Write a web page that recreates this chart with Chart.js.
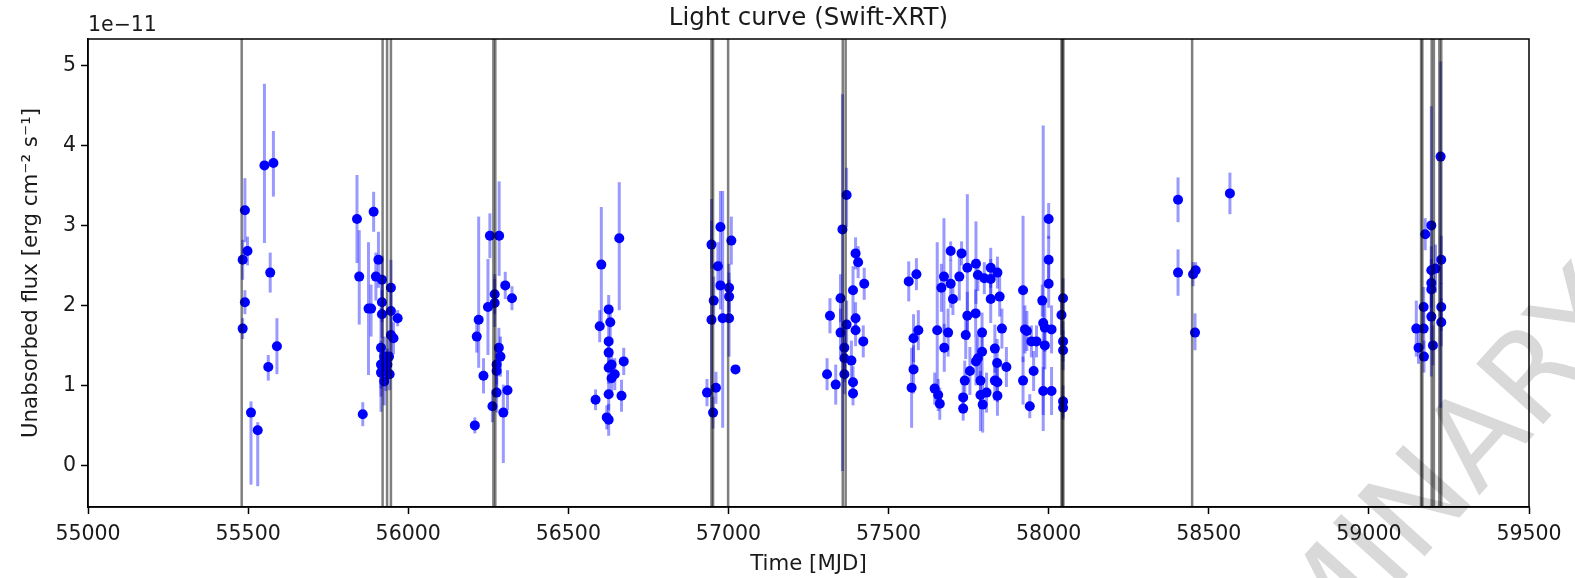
<!DOCTYPE html>
<html>
<head>
<meta charset="utf-8">
<title>Light curve (Swift-XRT)</title>
<script src="https://cdn.jsdelivr.net/npm/chart.js@4.4.1/dist/chart.umd.min.js"></script>
<style>
    html, body { margin: 0; padding: 0; background: #ffffff; }
    #wrap { width: 1575px; height: 578px; position: relative; }
</style>
</head>
<body>
<div id="wrap"><canvas id="lightCurve"></canvas></div>
<script>
// Observation times [MJD]
const mjd = [
    55490, 55498, 55483, 55490, 55483, 55551, 55579, 55569, 55590, 55563, 55509, 55530,
    55840, 55847, 55858, 55892, 55876, 55884, 55907, 55899, 55918, 55946, 55918, 55918,
    55967, 55946, 55954, 55946, 55915, 55925, 55940, 55915, 55930, 55942, 55925, 55915, 55935,
    56220, 56214, 56235, 56208, 56255, 56284, 56249, 56270, 56270, 56303, 56324, 56283,
    56288, 56276, 56276, 56276, 56263, 56310, 56297,
    56603, 56659, 56598, 56626, 56631, 56626, 56626, 56626, 56645, 56673, 56635, 56635,
    56626, 56666, 56585, 56620, 56626,
    56947, 56975, 57009, 56967, 56975, 57002, 57002, 56954, 56947, 56982, 57002, 57022,
    56933, 56961, 56952,
    57356, 57369, 57397, 57405, 57424, 57389, 57317, 57350, 57397, 57369, 57397, 57421,
    57350, 57362, 57362, 57384, 57308, 57335, 57362, 57389, 57389,
    57563, 57587, 57578, 57593, 57578, 57572, 57652, 57644, 57655, 57660, 57673, 57665,
    57686, 57674, 57694, 57694, 57701, 57728, 57721, 57746, 57773, 57779, 57799, 57746,
    57772, 57741, 57792, 57779, 57792, 57773, 57754, 57738, 57733, 57733, 57787, 57787,
    57794, 57806, 57819, 57840, 57819, 57819, 57847, 57854, 57832, 57839, 57868, 57832,
    57840, 57840, 57920, 57926, 57932, 57946, 57962, 57920, 57941, 57953, 57983, 57988,
    58000, 58000, 58000, 58009, 57983, 58009, 57988, 57980, 58045, 58040, 58045, 58045,
    58045, 58045,
    58404, 58404, 58451, 58459, 58457, 58566,
    59224, 59195, 59176, 59226, 59195, 59208, 59195, 59195, 59171, 59226, 59195, 59226,
    59148, 59171, 59155, 59200, 59172
];

// Unabsorbed flux [1e-11 erg cm^-2 s^-1]
const flux = [
    3.19, 2.68, 2.57, 2.04, 1.71, 3.75, 3.78, 2.41, 1.49, 1.23, 0.66, 0.44,
    3.08, 2.36, 0.64, 3.17, 1.96, 1.96, 2.57, 2.36, 2.32, 2.22, 2.04, 1.89,
    1.84, 1.93, 1.59, 1.63, 1.47, 1.36, 1.36, 1.26, 1.18, 1.14, 1.05, 1.16, 1.26,
    1.82, 1.61, 1.12, 0.50, 2.87, 2.87, 1.98, 2.14, 2.03, 2.25, 2.09, 1.47,
    1.36, 1.26, 1.18, 0.91, 0.74, 0.94, 0.66,
    2.51, 2.84, 1.74, 1.95, 1.79, 1.55, 1.41, 1.22, 1.14, 1.30, 1.09, 1.26,
    0.89, 0.87, 0.82, 0.60, 0.57,
    2.76, 2.98, 2.81, 2.49, 2.25, 2.22, 2.11, 2.06, 1.82, 1.84, 1.84, 1.20,
    0.91, 0.97, 0.66,
    2.95, 3.38, 2.65, 2.54, 2.27, 2.19, 1.87, 2.09, 1.84, 1.76, 1.69, 1.55,
    1.66, 1.47, 1.34, 1.31, 1.14, 1.01, 1.14, 1.04, 0.90,
    2.30, 2.39, 1.59, 1.69, 1.20, 0.97, 1.69, 0.96, 0.88, 0.77, 2.36, 2.22,
    1.66, 1.47, 2.68, 2.27, 2.08, 2.65, 2.36, 2.47, 2.52, 2.38, 2.34, 1.87,
    1.90, 1.63, 1.66, 1.34, 1.42, 1.30, 1.18, 1.06, 0.85, 0.71, 1.06, 0.88,
    0.76, 0.91, 2.47, 2.41, 2.33, 2.08, 2.11, 1.71, 1.46, 1.28, 1.23, 1.06,
    1.04, 0.87, 2.19, 1.70, 1.68, 1.55, 1.55, 1.06, 0.74, 1.18, 1.78, 1.72,
    3.08, 2.57, 2.27, 1.70, 0.93, 0.93, 1.50, 2.06, 2.09, 1.88, 1.55, 1.44,
    0.80, 0.72,
    3.32, 2.41, 2.39, 2.44, 1.66, 3.40,
    3.86, 3.00, 2.89, 2.57, 2.44, 2.46, 2.28, 2.20, 1.98, 1.98, 1.86, 1.79,
    1.71, 1.71, 1.47, 1.50, 1.36
];

// Lower error
const errLo = [
    0.40, 0.18, 0.25, 0.15, 0.13, 0.97, 0.42, 0.25, 0.35, 0.17, 0.90, 0.70,
    0.55, 0.60, 0.15, 0.25, 0.83, 0.35, 0.35, 0.30, 0.30, 0.35, 0.25, 0.30,
    0.10, 0.25, 0.20, 0.25, 0.80, 0.25, 0.25, 0.30, 0.25, 0.20, 0.30, 0.30, 0.20,
    0.60, 0.20, 0.22, 0.10, 0.28, 0.50, 0.60, 0.25, 0.30, 0.17, 0.15, 0.25,
    0.25, 0.25, 0.25, 0.25, 0.20, 0.25, 0.63,
    0.72, 0.90, 0.20, 0.18, 0.20, 0.20, 0.20, 0.20, 0.20, 0.17, 0.20, 0.20,
    0.20, 0.20, 0.13, 0.15, 0.20,
    0.30, 0.45, 0.30, 0.30, 0.30, 0.30, 0.30, 0.30, 1.17, 1.37, 0.48, 0.05,
    0.17, 0.20, 0.20,
    3.02, 0.40, 0.20, 0.20, 0.20, 0.30, 0.22, 0.30, 0.20, 0.30, 0.20, 0.20,
    0.30, 0.30, 0.30, 0.25, 0.20, 0.25, 0.25, 0.20, 0.15,
    0.25, 0.20, 0.30, 0.25, 0.30, 0.50, 0.90, 0.20, 0.20, 0.20, 0.70, 0.30,
    0.30, 0.30, 0.12, 0.30, 0.20, 0.15, 0.30, 0.90, 0.50, 0.20, 0.20, 0.30,
    0.30, 0.30, 0.25, 0.30, 0.30, 0.30, 0.30, 0.25, 0.20, 0.15, 0.30, 0.45,
    0.35, 0.25, 0.25, 0.20, 0.25, 0.30, 0.25, 0.25, 0.30, 0.30, 0.25, 0.25,
    0.25, 0.25, 0.90, 0.30, 0.25, 0.20, 0.20, 0.30, 0.15, 0.25, 1.35, 0.30,
    0.25, 0.30, 0.30, 0.30, 0.30, 0.30, 0.30, 0.20, 0.25, 0.25, 0.25, 0.25,
    0.20, 0.15,
    0.28, 0.29, 0.15, 0.10, 0.22, 0.26,
    3.14, 1.89, 0.20, 0.30, 0.30, 0.30, 0.30, 0.30, 0.25, 0.30, 0.30, 0.30,
    0.35, 0.25, 0.20, 0.25, 0.20
];

// Upper error
const errHi = [
    0.40, 0.18, 0.25, 0.15, 0.13, 1.02, 0.40, 0.25, 0.35, 0.15, 0.14, 0.10,
    0.55, 0.58, 0.15, 0.25, 0.83, 0.30, 0.35, 0.30, 0.30, 0.35, 0.25, 0.30,
    0.10, 0.25, 0.20, 0.25, 0.50, 0.25, 0.25, 0.30, 0.25, 0.20, 0.30, 0.30, 0.20,
    1.29, 0.20, 0.22, 0.10, 0.28, 0.68, 0.60, 0.25, 0.30, 0.17, 0.15, 0.25,
    0.25, 0.25, 0.25, 0.25, 0.20, 0.25, 0.35,
    0.72, 0.70, 0.20, 0.18, 0.20, 0.20, 0.20, 0.20, 0.20, 0.17, 0.20, 0.20,
    0.20, 0.20, 0.13, 0.15, 0.20,
    0.30, 0.45, 0.30, 0.30, 0.30, 0.30, 0.30, 0.30, 1.51, 1.59, 0.48, 0.05,
    0.17, 0.20, 0.20,
    1.69, 0.34, 0.20, 0.20, 0.20, 0.30, 0.22, 0.30, 0.20, 0.30, 0.20, 0.20,
    0.30, 0.30, 0.30, 0.25, 0.20, 0.25, 0.25, 0.20, 0.15,
    0.25, 0.20, 0.30, 0.25, 0.30, 0.50, 1.10, 0.20, 0.20, 0.20, 0.73, 0.30,
    0.30, 0.30, 0.12, 0.30, 0.20, 0.15, 0.30, 0.92, 0.53, 0.20, 0.20, 0.30,
    0.30, 0.30, 0.25, 0.30, 0.30, 0.30, 0.30, 0.25, 0.20, 0.15, 0.30, 0.30,
    0.30, 0.25, 0.25, 0.20, 0.25, 0.30, 0.25, 0.25, 0.30, 0.30, 0.25, 0.25,
    0.25, 0.25, 0.93, 0.30, 0.25, 0.20, 0.20, 0.30, 0.15, 0.25, 2.47, 0.30,
    0.20, 0.30, 0.30, 0.30, 0.30, 0.30, 0.30, 0.20, 0.25, 0.25, 0.25, 0.25,
    0.20, 0.15,
    0.28, 0.29, 0.15, 0.10, 0.24, 0.26,
    1.19, 1.49, 0.20, 0.30, 0.30, 0.30, 0.30, 0.30, 0.25, 0.30, 0.30, 0.30,
    0.35, 0.25, 0.20, 0.25, 0.20
];

// Marked epochs (vertical lines)
const markedEpochs = [
    55480, 55920, 55934, 55946, 56266, 56272, 56947, 56952, 56999,
    57357, 57366, 58040, 58043, 58046, 58448,
    59163, 59167, 59196, 59203, 59220, 59226
];

const xTicks = [55000, 55500, 56000, 56500, 57000, 57500, 58000, 58500, 59000, 59500];
const yTicks = [0, 1, 2, 3, 4, 5];

const FONT = "'DejaVu Sans', sans-serif";

// White background + watermark behind everything
const backgroundPlugin = {
    id: 'background',
    beforeDraw(chart) {
        const ctx = chart.ctx;
        ctx.save();
        ctx.fillStyle = '#ffffff';
        ctx.fillRect(0, 0, chart.width, chart.height);
        ctx.translate(1340, 602);
        ctx.rotate(-48 * Math.PI / 180);
        ctx.font = "124px " + FONT;
        ctx.fillStyle = '#d9d9d9';
        ctx.textAlign = 'center';
        ctx.textBaseline = 'middle';
        ctx.fillText('PRELIMINARY', 0, 0);
        ctx.restore();
    }
};

// Error bars, drawn under the points
const errorBarPlugin = {
    id: 'errorBars',
    beforeDatasetsDraw(chart) {
        const ctx = chart.ctx;
        const xs = chart.scales.x;
        const ys = chart.scales.y;
        const area = chart.chartArea;
        ctx.save();
        ctx.beginPath();
        ctx.rect(area.left, area.top, area.right - area.left, area.bottom - area.top);
        ctx.clip();
        ctx.strokeStyle = 'rgba(0, 0, 255, 0.4)';
        ctx.lineWidth = 3;
        mjd.forEach((t, i) => {
            const px = xs.getPixelForValue(t);
            ctx.beginPath();
            ctx.moveTo(px, ys.getPixelForValue(flux[i] - errLo[i]));
            ctx.lineTo(px, ys.getPixelForValue(flux[i] + errHi[i]));
            ctx.stroke();
        });
        ctx.restore();
    }
};

// Vertical marker lines, drawn over the points
const epochLinePlugin = {
    id: 'epochLines',
    afterDatasetsDraw(chart) {
        const ctx = chart.ctx;
        const xs = chart.scales.x;
        const area = chart.chartArea;
        ctx.save();
        ctx.strokeStyle = 'rgba(0, 0, 0, 0.5)';
        ctx.lineWidth = 2.5;
        markedEpochs.forEach(t => {
            const px = xs.getPixelForValue(t);
            ctx.beginPath();
            ctx.moveTo(px, area.top);
            ctx.lineTo(px, area.bottom);
            ctx.stroke();
        });
        ctx.restore();
    }
};

// Frame, title, axis labels and offset text
const framePlugin = {
    id: 'frame',
    afterDraw(chart) {
        const ctx = chart.ctx;
        const a = chart.chartArea;
        ctx.save();
        ctx.strokeStyle = '#000000';
        ctx.lineWidth = 1.5;
        ctx.strokeRect(a.left, a.top, a.right - a.left, a.bottom - a.top);

        ctx.fillStyle = '#1a1a1a';
        ctx.textAlign = 'center';
        ctx.textBaseline = 'middle';
        ctx.font = "24.5px " + FONT;
        ctx.fillText('Light curve (Swift-XRT)', (a.left + a.right) / 2, 19);

        ctx.font = "21.3px " + FONT;
        ctx.fillText('Time [MJD]', (a.left + a.right) / 2, 564);

        ctx.save();
        ctx.translate(31, (a.top + a.bottom) / 2);
        ctx.rotate(-Math.PI / 2);
        ctx.fillText('Unabsorbed flux [erg cm\u207B\u00B2 s\u207B\u00B9]', 0, 0);
        ctx.restore();

        ctx.font = "20.5px " + FONT;
        ctx.textAlign = 'left';
        ctx.textBaseline = 'alphabetic';
        ctx.fillText('1e\u221211', a.left, 31);
        ctx.restore();
    }
};

const points = mjd.map((t, i) => ({ x: t, y: flux[i] }));

new Chart(document.getElementById('lightCurve').getContext('2d'), {
    type: 'scatter',
    data: {
        datasets: [{
            label: 'Swift-XRT',
            data: points,
            backgroundColor: '#0000ff',
            borderWidth: 0,
            pointRadius: 5,
            pointHoverRadius: 5
        }]
    },
    options: {
        responsive: true,
        maintainAspectRatio: false,
        animation: false,
        layout: {
            padding: { left: 0, top: 39, right: 46, bottom: 0 }
        },
        plugins: {
            legend: { display: false },
            tooltip: { enabled: false }
        },
        scales: {
            x: {
                type: 'linear',
                min: 55000,
                max: 59500,
                afterBuildTicks: scale => { scale.ticks = xTicks.map(v => ({ value: v })); },
                afterFit: scale => { scale.height = 71; },
                grid: {
                    display: true,
                    drawOnChartArea: false,
                    drawTicks: true,
                    tickLength: 7,
                    tickWidth: 1.5,
                    tickColor: '#000000'
                },
                border: { display: true, color: '#000000', width: 1.5 },
                ticks: {
                    padding: 8,
                    maxRotation: 0,
                    autoSkip: false,
                    color: '#1a1a1a',
                    font: { family: FONT, size: 20.5 },
                    callback: value => String(value)
                }
            },
            y: {
                type: 'linear',
                min: -0.52,
                max: 5.33,
                afterBuildTicks: scale => { scale.ticks = yTicks.map(v => ({ value: v })); },
                afterFit: scale => { scale.width = 88; },
                grid: {
                    display: true,
                    drawOnChartArea: false,
                    drawTicks: true,
                    tickLength: 7,
                    tickWidth: 1.5,
                    tickColor: '#000000'
                },
                border: { display: true, color: '#000000', width: 1.5 },
                ticks: {
                    padding: 5,
                    autoSkip: false,
                    color: '#1a1a1a',
                    font: { family: FONT, size: 20.5 },
                    callback: value => String(value)
                }
            }
        }
    },
    plugins: [backgroundPlugin, errorBarPlugin, epochLinePlugin, framePlugin]
});
</script>
</body>
</html>
